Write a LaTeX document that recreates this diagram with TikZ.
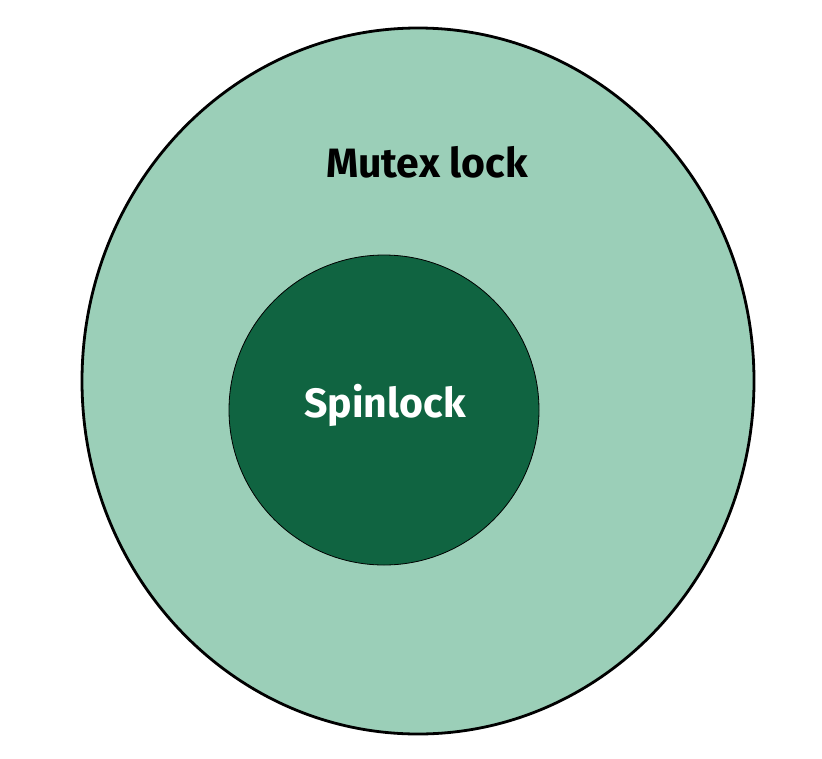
\documentclass[tikz,border=0pt]{standalone}
\usepackage{fontspec}
\setmainfont{Fira Sans}
\definecolor{outergreen}{HTML}{9BCFB8}
\definecolor{innergreen}{HTML}{106441}

\begin{document}
\begin{tikzpicture}[x=1pt, y=-1pt, every node/.style={font=\bfseries\fontsize{41}{44}\selectfont}]
\useasboundingbox (0,0) rectangle (822,758);

\draw[fill=outergreen, line width=2.8pt] (418,381) ellipse [x radius=336, y radius=353];
\draw[fill=innergreen, line width=0.8pt] (384,410) circle [radius=155];

\node[anchor=base, text=black] (mutex) at (427,177) {Mutex lock};
\node[anchor=base, text=white] (spin) at (385,417) {Spinlock};
\end{tikzpicture}
\end{document}
